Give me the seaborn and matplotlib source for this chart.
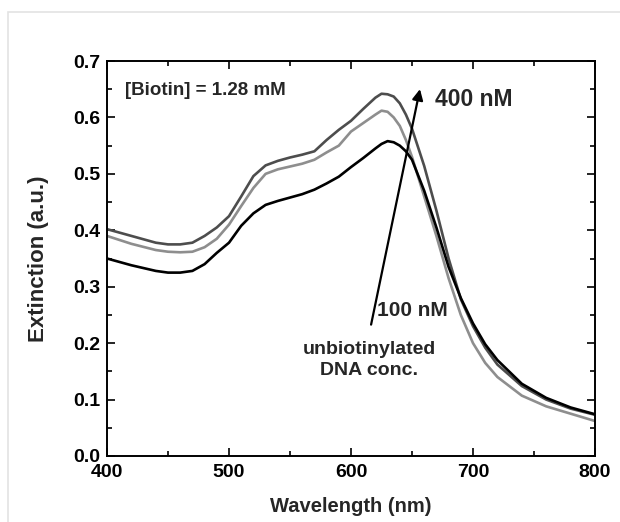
import numpy as np
import pandas as pd
import matplotlib
matplotlib.use("Agg")
import matplotlib.pyplot as plt
from matplotlib.patches import Rectangle
from matplotlib.ticker import MultipleLocator, FormatStrFormatter
import seaborn as sns

# wavelengths (nm)
wavelength = [400, 420, 440, 450, 460, 470, 480, 490, 500, 510, 520, 530, 540, 550,
              560, 570, 580, 590, 600, 610, 620, 625, 630, 635, 640, 645, 650, 660,
              670, 680, 690, 700, 710, 720, 740, 760, 780, 800]

# 400 nM (dark gray)
ext_400 = [0.402, 0.390, 0.378, 0.375, 0.375, 0.378, 0.390, 0.405, 0.425, 0.460, 0.496, 0.515,
           0.523, 0.529, 0.534, 0.540, 0.560, 0.578, 0.594, 0.615, 0.635, 0.642, 0.641, 0.637,
           0.625, 0.605, 0.580, 0.514, 0.435, 0.350, 0.278, 0.230, 0.192, 0.162, 0.124, 0.100,
           0.084, 0.073]

# 200 nM (light gray)
ext_200 = [0.390, 0.376, 0.365, 0.362, 0.361, 0.362, 0.370, 0.385, 0.410, 0.443, 0.475, 0.500,
           0.508, 0.513, 0.518, 0.525, 0.538, 0.550, 0.575, 0.590, 0.605, 0.612, 0.610, 0.600,
           0.585, 0.560, 0.530, 0.460, 0.390, 0.315, 0.250, 0.200, 0.165, 0.140, 0.107, 0.088,
           0.075, 0.062]

# 100 nM (black)
ext_100 = [0.350, 0.338, 0.328, 0.325, 0.325, 0.328, 0.340, 0.360, 0.378, 0.408, 0.430, 0.445,
           0.452, 0.458, 0.464, 0.472, 0.483, 0.495, 0.512, 0.528, 0.545, 0.553, 0.558, 0.556,
           0.550, 0.540, 0.525, 0.470, 0.405, 0.335, 0.280, 0.235, 0.198, 0.170, 0.128, 0.103,
           0.086, 0.074]

series = ["400 nM", "200 nM", "100 nM"]
colors = ["#4d4d4d", "#8e8e8e", "#000000"]

df = pd.DataFrame({
    "Wavelength": wavelength * 3,
    "Extinction": ext_400 + ext_200 + ext_100,
    "conc": np.repeat(series, len(wavelength)),
})

sns.set_theme(style="ticks")
plt.rcParams["font.family"] = ["Liberation Sans", "DejaVu Sans"]
plt.rcParams["font.weight"] = "bold"

fig = plt.figure(figsize=(6.2, 5.22), dpi=100)
# light gray frame around the figure
fig.patches.append(Rectangle((8 / 620, -0.1), 1.2, 1 - 12 / 522 + 0.1, transform=fig.transFigure,
                             fill=False, edgecolor="#e3e3e3", linewidth=1.2))
ax = fig.add_axes([107 / 620, 1 - 456 / 522, (595 - 107) / 620, (456 - 61) / 522])

sns.lineplot(data=df, x="Wavelength", y="Extinction", hue="conc", palette=colors,
             linewidth=1.9, legend=False, ax=ax, sort=False)

ax.set_xlim(400, 800)
ax.set_ylim(0, 0.7)
ax.xaxis.set_major_locator(MultipleLocator(100))
ax.xaxis.set_minor_locator(MultipleLocator(50))
ax.yaxis.set_major_locator(MultipleLocator(0.1))
ax.yaxis.set_minor_locator(MultipleLocator(0.05))
ax.yaxis.set_major_formatter(FormatStrFormatter("%.1f"))
ax.tick_params(which="both", direction="in", top=True, right=True, width=1.2, colors="black")
ax.tick_params(which="major", length=6, labelsize=14)
ax.tick_params(which="minor", length=3.5)
ax.tick_params(axis="x", which="major", pad=6)
ax.tick_params(axis="y", which="major", pad=5)
for lab in ax.get_xticklabels() + ax.get_yticklabels():
    lab.set_fontweight("bold")
for sp in ax.spines.values():
    sp.set_linewidth(1.4)
    sp.set_color("black")

ax.set_xlabel("Wavelength (nm)", fontsize=14.5, fontweight="bold", labelpad=11)
ax.set_ylabel("Extinction (a.u.)", fontsize=16, fontweight="bold", labelpad=17)

ax.text(415, 0.647, "[Biotin] = 1.28 mM", fontsize=13.5, fontweight="bold", va="center")
ax.text(669, 0.632, "400 nM", fontsize=16.5, fontweight="bold", va="center")
ax.text(621, 0.257, "100 nM", fontsize=15, fontweight="bold", va="center")
ax.text(615, 0.17, "unbiotinylated\nDNA conc.", fontsize=14, fontweight="bold",
        ha="center", va="center", linespacing=1.35)
ax.annotate("", xy=(657, 0.655), xytext=(616, 0.228),
            arrowprops=dict(arrowstyle="-|>", color="black", lw=1.6, mutation_scale=16))

fig.savefig("out.png", dpi=100)
